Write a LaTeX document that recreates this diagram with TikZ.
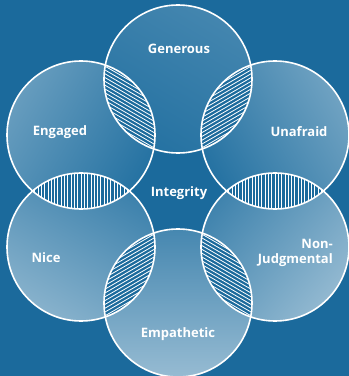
\documentclass[tikz,border=0pt]{standalone}
\usepackage{fontspec}
\setmainfont{Open Sans}
\usetikzlibrary{calc}
\definecolor{bgblue}{HTML}{1B6A9C}
\definecolor{darkfill}{HTML}{2572A2}

% hatched overlap of two circles
\newcommand{\hatchlens}[3]{%
  \begin{scope}
    \clip (#1) circle (74);
    \clip (#2) circle (74);
    \fill[bgblue] (#1) circle (74);
    \begin{scope}[shift={($(#1)!0.5!(#2)$)}, rotate=#3]
      \foreach \k in {-18,...,18}
        \draw[hatchline] (\k*3.3,-60) -- (\k*3.3,60);
    \end{scope}
  \end{scope}}

\begin{document}
\begin{tikzpicture}[x=1pt, y=1pt,
                    ring/.style={draw=white, line width=1.6pt},
                    hatchline/.style={draw=white, line width=0.8pt},
                    trait/.style={text=white, inner sep=0pt, font=\bfseries\fontsize{13}{15}\selectfont}]
    \fill[bgblue] (0,0) rectangle (349,376);
    \useasboundingbox (0,0) rectangle (349,376);

    \coordinate (gen) at (178,297);
    \coordinate (eng) at (81,241);
    \coordinate (una) at (275,241);
    \coordinate (nic) at (81,129);
    \coordinate (non) at (275,129);
    \coordinate (emp) at (178,73);

    % circle fills
    \shade[top color=darkfill, bottom color=white!14!darkfill, shading angle=150] (gen) circle (74);
    \shade[top color=darkfill, bottom color=white!30!darkfill, shading angle=240] (eng) circle (74);
    \shade[top color=darkfill, bottom color=white!34!darkfill, shading angle=120] (una) circle (74);
    \shade[top color=white!10!darkfill, bottom color=white!45!darkfill, shading angle=330] (nic) circle (74);
    \shade[top color=white!12!darkfill, bottom color=white!50!darkfill, shading angle=50] (non) circle (74);
    \shade[top color=white!15!darkfill, bottom color=white!52!darkfill, shading angle=0] (emp) circle (74);

    % overlaps
    \hatchlens{gen}{eng}{60}
    \hatchlens{gen}{una}{-60}
    \hatchlens{eng}{nic}{0}
    \hatchlens{una}{non}{0}
    \hatchlens{nic}{emp}{-60}
    \hatchlens{non}{emp}{60}

    % outlines
    \foreach \c in {gen,eng,una,nic,non,emp}
        \draw[ring] (\c) circle (74);

    \node[trait] (generous) at (179,327) {Generous};
    \node[trait] (engaged) at (60,244) {Engaged};
    \node[trait] (unafraid) at (299,244) {Unafraid};
    \node[trait] (integrity) at (179,183) {Integrity};
    \node[trait] (nice) at (46,118) {Nice};
    \node[trait, anchor=east, align=right] (nonjudg) at (333,123) {Non-\\Judgmental};
    \node[trait] (empathetic) at (178,42) {Empathetic};
\end{tikzpicture}
\end{document}
